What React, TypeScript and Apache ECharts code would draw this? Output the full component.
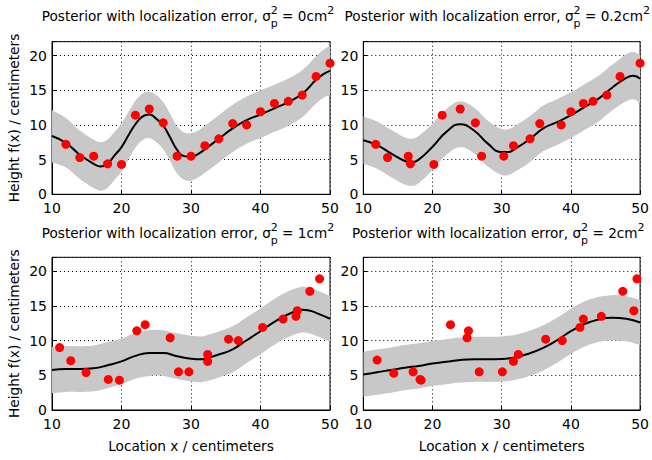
import React, { useEffect, useRef } from 'react';
import * as echarts from 'echarts';

// ---------------- data ----------------
// Top-left: sigma_p^2 = 0
const TL_X = [10, 12, 14, 16, 17, 18, 19, 20, 21, 22, 23, 24, 25, 26, 27, 28, 29, 30, 31, 32, 34, 36, 38, 40, 42, 44, 46, 48, 49, 50];
const TL_MEAN = [8.4, 7.4, 5.7, 4.4, 4.0, 4.45, 5.6, 6.8, 8.5, 10.1, 11.2, 11.5, 10.9, 9.9, 8.2, 6.4, 5.5, 5.4, 5.8, 6.5, 8.0, 9.5, 10.7, 11.5, 12.4, 13.3, 14.5, 16.5, 17.3, 17.8];
const TL_UPPER = [12.1, 11.0, 9.2, 7.9, 7.5, 7.9, 9.0, 10.2, 11.9, 13.5, 14.5, 14.8, 14.3, 13.3, 11.6, 9.8, 8.9, 8.8, 9.2, 9.9, 11.4, 12.9, 14.1, 15.0, 15.8, 16.7, 17.9, 19.9, 20.8, 21.4];
const TL_LOWER = [4.6, 3.9, 2.2, 0.9, 0.5, 0.95, 2.1, 3.3, 5.0, 6.7, 7.8, 8.1, 7.5, 6.5, 4.8, 3.0, 2.1, 2.0, 2.4, 3.1, 4.6, 6.1, 7.3, 8.1, 9.0, 9.9, 11.1, 13.1, 13.9, 14.3];
const TL_OBS_X = [12, 14, 16, 18, 20, 22, 24, 26, 28, 30, 32, 34, 36, 38, 40, 42, 44, 46, 48, 50];
const TL_OBS_Y = [7.2, 5.3, 5.5, 4.4, 4.3, 11.4, 12.3, 10.3, 5.5, 5.5, 7.0, 8.0, 10.2, 10.0, 11.9, 13.1, 13.4, 14.3, 17.0, 18.9];

// Top-right: sigma_p^2 = 0.2
const TR_X = [10, 12, 14, 16, 17, 18, 20, 22, 24, 26, 28, 30, 31, 32, 34, 36, 38, 40, 42, 44, 46, 48, 49, 50];
const TR_MEAN = [7.8, 7.1, 5.9, 4.8, 4.6, 5.0, 6.85, 9.0, 10.1, 9.2, 7.3, 6.1, 6.1, 6.6, 7.9, 9.5, 10.4, 11.4, 12.6, 13.8, 15.4, 16.8, 17.1, 16.65];
const TR_UPPER = [11.2, 10.5, 9.3, 8.2, 8.0, 8.4, 10.2, 12.3, 13.4, 12.5, 10.6, 9.4, 9.4, 9.9, 11.2, 12.8, 13.7, 14.7, 15.9, 17.1, 18.7, 20.2, 20.5, 20.1];
const TR_LOWER = [4.4, 3.7, 2.5, 1.4, 1.2, 1.6, 3.5, 5.7, 6.8, 5.9, 4.0, 2.8, 2.8, 3.3, 4.6, 6.2, 7.1, 8.1, 9.3, 10.5, 12.1, 13.4, 13.7, 13.2];
const TR_OBS_X = [11.8, 13.5, 16.5, 16.8, 20.2, 21.4, 24.0, 26.2, 27.1, 30.3, 31.7, 34.1, 35.5, 38.6, 40.0, 41.8, 43.2, 45.2, 47.1, 50.0];
const TR_OBS_Y = [7.2, 5.3, 5.5, 4.4, 4.3, 11.4, 12.3, 10.3, 5.5, 5.5, 7.0, 8.0, 10.2, 10.0, 11.9, 13.1, 13.4, 14.3, 17.0, 18.9];

// Bottom-left: sigma_p^2 = 1
const BL_X = [10, 12, 14, 16, 18, 20, 22, 24, 26, 28, 30, 31.5, 32, 34, 36, 38, 40, 42, 44, 46, 47, 48, 50];
const BL_MEAN = [5.75, 5.9, 5.9, 6.0, 6.45, 7.0, 7.8, 8.2, 8.2, 7.75, 7.4, 7.3, 7.4, 8.0, 8.75, 10.05, 11.35, 12.7, 13.8, 14.45, 14.35, 14.0, 13.15];
const BL_UPPER = [9.1, 9.2, 9.2, 9.3, 9.8, 10.3, 11.1, 11.5, 11.5, 11.05, 10.7, 10.6, 10.7, 11.3, 12.05, 13.35, 14.65, 16.0, 17.1, 17.75, 17.65, 17.3, 16.45];
const BL_LOWER = [2.4, 2.6, 2.6, 2.7, 3.15, 3.7, 4.5, 4.9, 4.9, 4.45, 4.1, 4.0, 4.1, 4.7, 5.45, 6.75, 8.05, 9.4, 10.5, 11.15, 11.05, 10.7, 9.85];
const BL_OBS_X = [11.1, 12.7, 14.9, 18.1, 19.7, 22.2, 23.4, 27.0, 28.2, 29.7, 32.4, 32.4, 35.4, 36.8, 40.3, 43.25, 45.1, 45.3, 47.1, 48.5];
const BL_OBS_Y = [9.0, 7.1, 5.4, 4.4, 4.3, 11.4, 12.3, 10.4, 5.5, 5.5, 8.0, 7.0, 10.2, 10.0, 11.9, 13.1, 13.5, 14.3, 17.1, 18.9];

// Bottom-right: sigma_p^2 = 2
const BR_X = [10, 12, 14, 16, 18, 20, 22, 24, 26, 28, 30, 32, 34, 36, 38, 40, 42, 44, 46, 48, 50];
const BR_MEAN = [5.1, 5.45, 5.75, 6.1, 6.35, 6.7, 6.95, 7.2, 7.3, 7.3, 7.35, 7.6, 8.15, 8.95, 10.05, 11.35, 12.4, 13.05, 13.3, 13.15, 12.6];
const BR_UPPER = [8.4, 8.7, 9.0, 9.35, 9.6, 9.95, 10.2, 10.45, 10.55, 10.55, 10.6, 10.85, 11.4, 12.2, 13.3, 14.6, 15.65, 16.3, 16.55, 16.4, 15.85];
const BR_LOWER = [1.9, 2.2, 2.5, 2.85, 3.1, 3.45, 3.7, 3.95, 4.05, 4.05, 4.1, 4.35, 4.9, 5.7, 6.8, 8.1, 9.15, 9.8, 10.05, 9.9, 9.35];
const BR_OBS_X = [12.0, 14.4, 17.2, 18.2, 18.35, 22.6, 25.0, 25.2, 26.75, 30.1, 31.7, 32.4, 36.35, 38.75, 41.3, 41.8, 44.4, 47.5, 49.1, 49.55];
const BR_OBS_Y = [7.2, 5.3, 5.5, 4.4, 4.3, 12.3, 10.4, 11.4, 5.5, 5.5, 7.0, 8.0, 10.2, 10.0, 11.9, 13.1, 13.5, 17.1, 14.3, 18.9];

const ERRORS = ['0', '0.2', '1', '2'];
const X_NAME = 'Location x / centimeters';
const Y_NAME = 'Height f(x) / centimeters';

// ---------------- layout / style ----------------
const GRIDS = [
  { left: 52, top: 41.7, width: 278, height: 152.6 },
  { left: 363.3, top: 41.7, width: 278, height: 152.6 },
  { left: 52, top: 257.3, width: 278, height: 152.7 },
  { left: 363.3, top: 257.3, width: 278, height: 152.7 },
];
const TITLE_BASELINES = [20.8, 20.8, 237.8, 237.8];
const TITLE_SHIFT = [-3, -5, -3, -4];
const FAMILY = '"DejaVu Sans"';
const MAIN_SIZE = 13.6;
const SMALL_SIZE = 11;
const BAND = '#c8c8c8';

const PANELS = [
  { x: TL_X, mean: TL_MEAN, upper: TL_UPPER, lower: TL_LOWER, ox: TL_OBS_X, oy: TL_OBS_Y },
  { x: TR_X, mean: TR_MEAN, upper: TR_UPPER, lower: TR_LOWER, ox: TR_OBS_X, oy: TR_OBS_Y },
  { x: BL_X, mean: BL_MEAN, upper: BL_UPPER, lower: BL_LOWER, ox: BL_OBS_X, oy: BL_OBS_Y },
  { x: BR_X, mean: BR_MEAN, upper: BR_UPPER, lower: BR_LOWER, ox: BR_OBS_X, oy: BR_OBS_Y },
];

let ctx: CanvasRenderingContext2D | null = null;
function measure(text: string, size: number): number {
  if (!ctx) ctx = document.createElement('canvas').getContext('2d');
  if (!ctx) return text.length * size * 0.6;
  ctx.font = `${size}px ${FAMILY}`;
  return ctx.measureText(text).width;
}

function textEl(text: string, x: number, y: number, size: number) {
  return {
    type: 'text',
    x,
    y,
    silent: true,
    style: {
      text,
      font: `${size}px ${FAMILY}`,
      fill: '#000',
      align: 'left',
      verticalAlign: 'middle',
      textAlign: 'left',
      textVerticalAlign: 'middle',
    },
  };
}

function titleElements(i: number) {
  const g = GRIDS[i];
  const cx = g.left + g.width / 2 + TITLE_SHIFT[i];
  const B = TITLE_BASELINES[i];
  const main = 'Posterior with localization error, \u03c3';
  const tail = ' = ' + ERRORS[i] + 'cm';
  const wMain = measure(main, MAIN_SIZE);
  const wS = Math.max(measure('2', SMALL_SIZE), measure('p', SMALL_SIZE));
  const wTail = measure(tail, MAIN_SIZE);
  const wSup = measure('2', SMALL_SIZE);
  const total = wMain + wS + wTail + wSup;
  const x0 = cx - total / 2;
  const yMain = B - 0.346 * MAIN_SIZE;
  const ySup = B - 6 - 0.346 * SMALL_SIZE;
  const ySub = B + 7 - 0.346 * SMALL_SIZE;
  return [
    textEl(main, x0, yMain, MAIN_SIZE),
    textEl('2', x0 + wMain, ySup, SMALL_SIZE),
    textEl('p', x0 + wMain, ySub, SMALL_SIZE),
    textEl(tail, x0 + wMain + wS, yMain, MAIN_SIZE),
    textEl('2', x0 + wMain + wS + wTail, ySup, SMALL_SIZE),
  ];
}

const pair = (xs: number[], ys: number[]) => xs.map((x, k) => [x, ys[k]]);

function bandRenderer(p: { x: number[]; upper: number[]; lower: number[] }) {
  return (params: any, api: any) => {
    const up = p.x.map((x, k) => api.coord([x, p.upper[k]]));
    const lo = p.x.map((x, k) => api.coord([x, p.lower[k]])).reverse();
    // duplicate the corner points so the smoothing keeps the ends straight
    const points = [up[0], ...up, up[up.length - 1], lo[0], ...lo, lo[lo.length - 1]];
    const cs = params.coordSys;
    return {
      type: 'group',
      children: [
        {
          type: 'polygon',
          shape: { points, smooth: 0.35 },
          style: { fill: BAND, stroke: null },
          clipPath: {
            type: 'rect',
            shape: { x: cs.x, y: cs.y, width: cs.width, height: cs.height },
          },
        },
      ],
    };
  };
}

function buildOption() {
  const labelStyle = { color: '#000', fontSize: 14, fontFamily: FAMILY };
  const nameStyle = { color: '#000', fontSize: 13.7, fontFamily: FAMILY };
  const splitLine = { show: true, lineStyle: { color: '#000', width: 1, type: [1, 3] } };

  const grid = GRIDS.map((g) => ({
    ...g,
    show: true,
    borderColor: '#000',
    borderWidth: 1,
    backgroundColor: 'transparent',
    containLabel: false,
  }));

  const xAxis = GRIDS.map((_, i) => ({
    gridIndex: i,
    type: 'value',
    min: 10,
    max: 50,
    interval: 10,
    axisLine: { show: true, onZero: false, lineStyle: { color: '#000', width: 1 } },
    axisTick: { show: true, inside: true, length: 4, lineStyle: { color: '#000' } },
    axisLabel: { ...labelStyle, margin: 7, showMinLabel: true, showMaxLabel: true },
    splitLine,
    name: i >= 2 ? X_NAME : '',
    nameLocation: 'middle',
    nameGap: 29,
    nameTextStyle: nameStyle,
  }));

  const yAxis = GRIDS.map((_, i) => ({
    gridIndex: i,
    type: 'value',
    min: 0,
    max: 22,
    interval: 5,
    axisLine: { show: true, onZero: false, lineStyle: { color: '#000', width: 1 } },
    axisTick: { show: true, inside: true, length: 4, lineStyle: { color: '#000' } },
    axisLabel: {
      ...labelStyle,
      margin: 5,
      formatter: (v: number) => (v % 5 === 0 ? String(v) : ''),
    },
    splitLine,
    name: i % 2 === 0 ? Y_NAME : '',
    nameLocation: 'middle',
    nameGap: 31,
    nameTextStyle: nameStyle,
  }));

  const series: any[] = [];
  PANELS.forEach((p, i) => {
    series.push({
      type: 'custom',
      xAxisIndex: i,
      yAxisIndex: i,
      data: [[p.x[0], p.lower[0]]],
      renderItem: bandRenderer(p),
      silent: true,
      z: 1,
    });
    series.push({
      type: 'line',
      xAxisIndex: i,
      yAxisIndex: i,
      data: pair(p.x, p.mean),
      smooth: true,
      symbol: 'none',
      silent: true,
      lineStyle: { color: '#000', width: 2 },
      z: 3,
    });
    series.push({
      type: 'scatter',
      xAxisIndex: i,
      yAxisIndex: i,
      data: pair(p.ox, p.oy),
      symbol: 'circle',
      symbolSize: 9,
      clip: false,
      silent: true,
      itemStyle: { color: '#ff0000', opacity: 1 },
      z: 4,
    });
  });

  const graphic = GRIDS.flatMap((_, i) => titleElements(i));

  return {
    animation: false,
    backgroundColor: '#fff',
    textStyle: { fontFamily: FAMILY },
    grid,
    xAxis,
    yAxis,
    series,
    graphic,
  };
}

export default function App() {
  const ref = useRef<HTMLDivElement>(null);
  useEffect(() => {
    if (!ref.current) return;
    const chart = echarts.init(ref.current, null, { renderer: 'svg' });
    chart.setOption(buildOption() as any);
    return () => chart.dispose();
  }, []);
  return (
    <div
      ref={ref}
      style={{ position: 'fixed', left: 0, top: 0, width: 652, height: 460, background: '#fff' }}
    />
  );
}
